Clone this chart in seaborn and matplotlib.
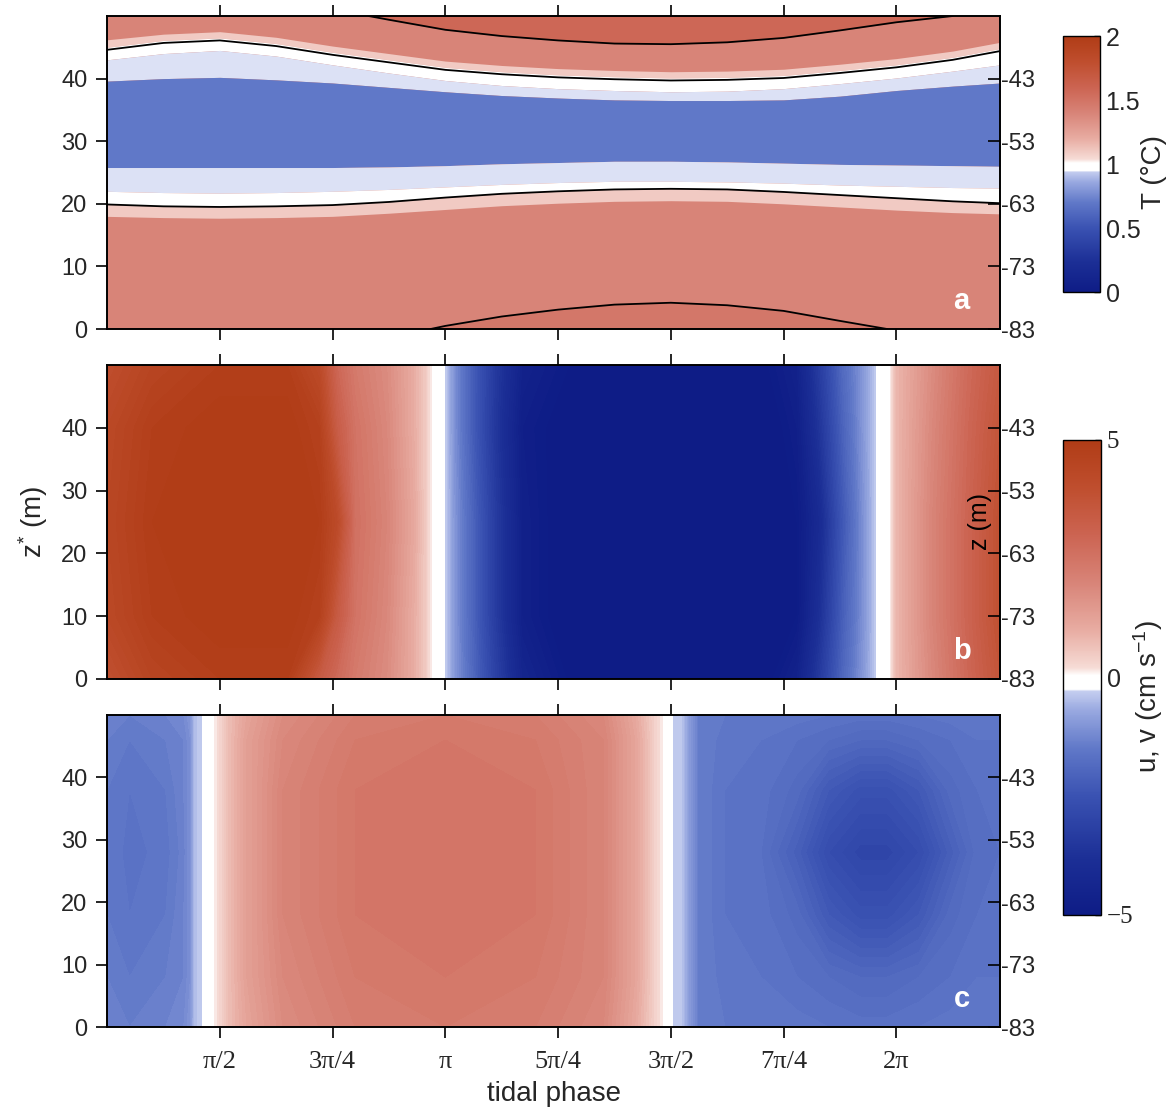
import numpy as np
import matplotlib
matplotlib.use("Agg")
import matplotlib.pyplot as plt
from matplotlib.colors import LinearSegmentedColormap, Normalize
from matplotlib.cm import ScalarMappable
import seaborn as sns

# ---------------- data (phases in units of pi, heights z* in m) ----------------
tick_phase = [0.5, 0.75, 1.0, 1.25, 1.5, 1.75, 2.0]
tick_labels = ["π/2", "3π/4", "π", "5π/4", "3π/2", "7π/4", "2π"]
zstar_ticks = [0, 10, 20, 30, 40]
z_right_labels = ["-83", "-73", "-63", "-53", "-43"]

# panel a: edges of the temperature bands
phase_a = [0.25, 0.375, 0.5, 0.625, 0.75, 0.875, 1.0, 1.125, 1.25, 1.375, 1.5, 1.625, 1.75, 1.875, 2.0, 2.125, 2.23]
upper_line = [44.6, 45.7, 46.1, 45.2, 43.8, 42.6, 41.4, 40.7, 40.2, 39.9, 39.7, 39.8, 40.1, 40.9, 41.8, 43.0, 44.4]
pink_top = [46.2, 47.1, 47.5, 46.6, 45.2, 44.0, 42.8, 42.1, 41.6, 41.3, 41.1, 41.2, 41.5, 42.3, 43.2, 44.4, 45.8]
pink_bottom = [45.0, 46.1, 46.5, 45.6, 44.2, 43.0, 41.8, 41.1, 40.6, 40.3, 40.1, 40.2, 40.5, 41.3, 42.2, 43.4, 44.8]
white_bottom = [43.0, 44.0, 44.5, 43.6, 42.2, 40.9, 39.7, 38.9, 38.4, 38.1, 37.9, 38.0, 38.4, 39.2, 40.1, 41.2, 42.2]
core_top = [39.6, 40.0, 40.2, 39.8, 39.3, 38.6, 37.9, 37.3, 36.9, 36.6, 36.5, 36.5, 36.6, 37.2, 38.1, 38.8, 39.3]
core_bottom = [25.8, 25.8, 25.8, 25.8, 25.8, 25.9, 26.1, 26.4, 26.6, 26.8, 26.8, 26.7, 26.5, 26.3, 26.2, 26.1, 26.0]
low_white_top = [22.0, 21.8, 21.7, 21.8, 22.0, 22.3, 22.7, 23.1, 23.4, 23.6, 23.6, 23.5, 23.3, 23.0, 22.8, 22.6, 22.5]
lower_line = [19.9, 19.6, 19.5, 19.6, 19.8, 20.3, 21.0, 21.6, 22.0, 22.3, 22.4, 22.3, 21.9, 21.4, 20.9, 20.4, 20.1]
low_pink_bottom = [18.0, 17.8, 17.7, 17.8, 18.0, 18.5, 19.1, 19.7, 20.1, 20.4, 20.5, 20.4, 20.0, 19.5, 19.0, 18.6, 18.4]

top_phase = [0.83, 0.875, 1.0, 1.125, 1.25, 1.375, 1.5, 1.625, 1.75, 1.875, 2.0, 2.125]
top_line = [50.0, 49.4, 47.8, 46.8, 46.1, 45.6, 45.5, 45.8, 46.5, 47.7, 49.0, 50.0]
bot_phase = [0.967, 1.0, 1.125, 1.25, 1.375, 1.5, 1.625, 1.75, 1.875, 1.98]
bot_line = [0.0, 0.5, 2.0, 3.1, 3.9, 4.2, 3.8, 2.9, 1.3, 0.0]

# band temperatures (deg C)
T_red, T_top, T_bot, T_pink, T_white, T_lblue, T_core = 1.40, 1.58, 1.48, 1.1, 1.0, 0.9425, 0.7

# panel b: u (cm/s)
phase_b = [0.25, 0.35, 0.5, 0.65, 0.72, 0.76, 0.8, 0.87, 0.93, 0.955, 0.97, 0.985, 1.0, 1.02, 1.06,
           1.11, 1.17, 1.3, 1.5, 1.7, 1.78, 1.83, 1.88, 1.93, 1.955, 1.97, 1.985, 2.0, 2.08, 2.16, 2.23]
z_b = [0, 10, 25, 40, 50]
u_z0 = [3.9, 4.5, 4.8, 4.8, 3.4, 2.8, 2.3, 1.8, 1.0, 0.5, 0.1, -0.1, -0.3, -1.0, -1.9, -3.1, -4.4, -5.2, -5.3, -5.2, -4.6, -3.4, -2.0, -0.9, -0.3, -0.1, 0.05, 0.8, 1.9, 2.9, 3.7]
u_z10 = [4.3, 4.8, 5.0, 5.0, 4.7, 3.4, 2.5, 1.9, 1.0, 0.5, 0.1, -0.1, -0.3, -1.0, -2.0, -3.3, -4.7, -5.4, -5.5, -5.4, -5.0, -3.8, -2.2, -1.0, -0.3, -0.1, 0.05, 0.8, 2.0, 3.0, 3.9]
u_z25 = [4.4, 4.9, 5.0, 5.0, 4.9, 4.2, 2.6, 2.0, 1.1, 0.5, 0.1, -0.1, -0.3, -1.0, -2.0, -3.3, -4.7, -5.4, -5.5, -5.4, -5.0, -4.1, -2.4, -1.0, -0.3, -0.1, 0.05, 0.8, 2.0, 3.0, 3.9]
u_z40 = [4.3, 4.8, 5.0, 5.0, 4.7, 3.3, 2.5, 1.9, 1.0, 0.5, 0.1, -0.1, -0.3, -1.1, -2.2, -3.5, -4.8, -5.3, -5.4, -5.3, -4.8, -3.6, -2.1, -0.9, -0.3, -0.1, 0.05, 0.8, 1.9, 2.9, 3.7]
u_z50 = [4.0, 4.5, 4.8, 4.8, 4.2, 2.9, 2.3, 1.8, 1.0, 0.5, 0.1, -0.1, -0.3, -1.1, -2.2, -3.4, -4.6, -5.1, -5.2, -5.1, -4.6, -3.3, -1.9, -0.9, -0.3, -0.1, 0.05, 0.8, 1.8, 2.8, 3.5]

# panel c: v (cm/s)
phase_c = [0.25, 0.3, 0.38, 0.42, 0.435, 0.445, 0.465, 0.485, 0.5, 0.52, 0.56, 0.64, 0.8, 1.0, 1.2, 1.35,
           1.42, 1.45, 1.47, 1.49, 1.505, 1.525, 1.54, 1.56, 1.62,
           1.7, 1.78, 1.85, 1.92, 1.98, 2.05, 2.12, 2.18, 2.23]
z_c = [0, 8, 18, 28, 38, 46, 50]
v_z0 = [-1.3, -1.4, -1.3, -1.2, -1.0, -0.45, -0.25, 0.05, 0.3, 0.7, 1.2, 1.8, 2.2, 2.3, 2.2, 1.9, 1.1, 0.6, 0.25, 0.0, -0.3, -0.4, -0.9, -1.4, -1.5,
        -1.5, -1.55, -1.6, -1.65, -1.65, -1.6, -1.55, -1.5, -1.5]
v_z8 = [-1.4, -1.5, -1.4, -1.3, -1.1, -0.45, -0.25, 0.05, 0.3, 0.7, 1.3, 1.9, 2.3, 2.4, 2.3, 2.0, 1.2, 0.65, 0.25, 0.0, -0.3, -0.4, -0.9, -1.4, -1.55,
        -1.6, -1.7, -1.8, -1.9, -1.9, -1.8, -1.7, -1.6, -1.6]
v_z18 = [-1.5, -1.6, -1.5, -1.3, -1.1, -0.45, -0.25, 0.05, 0.3, 0.7, 1.3, 2.0, 2.4, 2.5, 2.4, 2.0, 1.2, 0.65, 0.25, 0.0, -0.3, -0.4, -0.9, -1.4, -1.6,
         -1.65, -1.85, -2.3, -2.55, -2.55, -2.3, -1.85, -1.7, -1.65]
v_z28 = [-1.5, -1.65, -1.55, -1.35, -1.1, -0.45, -0.25, 0.05, 0.3, 0.7, 1.3, 2.0, 2.4, 2.5, 2.4, 2.0, 1.2, 0.65, 0.25, 0.0, -0.3, -0.4, -0.9, -1.4, -1.6,
         -1.7, -2.15, -2.7, -2.95, -2.95, -2.7, -2.15, -1.75, -1.7]
v_z38 = [-1.5, -1.6, -1.5, -1.3, -1.1, -0.45, -0.25, 0.05, 0.3, 0.7, 1.3, 2.0, 2.4, 2.5, 2.4, 2.0, 1.2, 0.65, 0.25, 0.0, -0.3, -0.4, -0.9, -1.4, -1.6,
         -1.65, -1.85, -2.3, -2.55, -2.55, -2.3, -1.85, -1.7, -1.65]
v_z46 = [-1.4, -1.5, -1.4, -1.3, -1.1, -0.45, -0.25, 0.05, 0.3, 0.7, 1.3, 1.9, 2.3, 2.4, 2.3, 2.0, 1.2, 0.65, 0.25, 0.0, -0.3, -0.4, -0.9, -1.4, -1.55,
         -1.6, -1.7, -1.8, -1.9, -1.9, -1.8, -1.7, -1.6, -1.6]
v_z50 = [-1.3, -1.4, -1.3, -1.2, -1.0, -0.45, -0.25, 0.05, 0.3, 0.7, 1.2, 1.8, 2.2, 2.3, 2.2, 1.9, 1.1, 0.6, 0.25, 0.0, -0.3, -0.4, -0.9, -1.4, -1.5,
         -1.5, -1.55, -1.6, -1.65, -1.65, -1.6, -1.55, -1.5, -1.5]

# ---------------- style ----------------
sns.set_theme(style="ticks")
plt.rcParams["font.family"] = ["Liberation Sans", "DejaVu Sans"]
plt.rcParams["mathtext.fontset"] = "custom"
plt.rcParams["mathtext.rm"] = "Liberation Sans"
plt.rcParams["mathtext.it"] = "Liberation Sans:italic"
plt.rcParams["axes.edgecolor"] = "black"

cmap = LinearSegmentedColormap.from_list("rb", [
    (0.00, "#0e1c86"), (0.12, "#1c2f96"), (0.25, "#3a52b2"), (0.35, "#6078c8"),
    (0.43, "#98a8e0"), (0.47, "#c4cdef"), (0.474, "#ffffff"), (0.505, "#ffffff"),
    (0.52, "#f6dcd6"), (0.60, "#e8aca2"), (0.70, "#d88478"), (0.80, "#cc6452"),
    (0.90, "#bf4e2e"), (1.00, "#b03c16")], N=512)
norm_T = Normalize(0, 2)
norm_u = Normalize(-5, 5)
FS = 17
FL = 20

fig = plt.figure(figsize=(11.66, 11.12), dpi=100)
ax_a = fig.add_axes([0.0918, 0.7041, 0.7659, 0.2815])
ax_b = fig.add_axes([0.0918, 0.3894, 0.7659, 0.2824])
ax_c = fig.add_axes([0.0918, 0.0764, 0.7659, 0.2806])
cax_t = fig.add_axes([0.9117, 0.7374, 0.0317, 0.2302])
cax_u = fig.add_axes([0.9117, 0.1772, 0.0326, 0.4272])

pi = np.pi
xa = np.array(phase_a) * pi

# ---- panel a: temperature bands
def band(lo, hi, T, x=xa):
    ax_a.fill_between(x, lo, hi, color=cmap(norm_T(T)), lw=0)

band(0, 50, T_red)
band(top_line, 50, T_top, x=np.array(top_phase) * pi)
band(0, bot_line, T_bot, x=np.array(bot_phase) * pi)
band(pink_bottom, pink_top, T_pink)
band(white_bottom, pink_bottom, T_white)
band(core_top, white_bottom, T_lblue)
band(core_bottom, core_top, T_core)
band(low_white_top, core_bottom, T_lblue)
band(lower_line, low_white_top, T_white)
band(low_pink_bottom, lower_line, T_pink)

for px, pz in [(phase_a, upper_line), (phase_a, lower_line), (top_phase, top_line), (bot_phase, bot_line)]:
    sns.lineplot(x=np.array(px) * pi, y=pz, ax=ax_a, color="black", lw=1.3, estimator=None)

# ---- panels b, c: velocity fields
levels = np.linspace(-5, 5, 101)
ax_b.contourf(np.array(phase_b) * pi, z_b, np.array([u_z0, u_z10, u_z25, u_z40, u_z50]),
              levels=levels, cmap=cmap, norm=norm_u, extend="both", antialiased=False)
ax_c.contourf(np.array(phase_c) * pi, z_c, np.array([v_z0, v_z8, v_z18, v_z28, v_z38, v_z46, v_z50]),
              levels=levels, cmap=cmap, norm=norm_u, extend="both", antialiased=False)

# ---- axes styling
for ax, letter in [(ax_a, "a"), (ax_b, "b"), (ax_c, "c")]:
    ax.set_xlim(0.25 * pi, 2.23 * pi)
    ax.set_ylim(0, 50)
    ax.set_xticks(np.array(tick_phase) * pi)
    ax.set_xticklabels(tick_labels if ax is ax_c else [], family="Liberation Serif", fontsize=19)
    ax.set_yticks(zstar_ticks)
    ax.set_yticklabels([str(v) for v in zstar_ticks], fontsize=FS)
    ax.tick_params(axis="both", direction="out", length=8, width=1.2, color="black",
                   top=True, bottom=True, left=True, right=False)
    ax.tick_params(axis="x", pad=9)
    ax.tick_params(axis="y", pad=6)
    ax.set_xlabel("")
    ax.set_ylabel("")
    for sp in ax.spines.values():
        sp.set_color("black")
        sp.set_linewidth(1.2)
    ax2 = ax.twinx()
    ax2.set_ylim(0, 50)
    ax2.set_yticks(zstar_ticks)
    ax2.set_yticklabels(z_right_labels, fontsize=FS)
    ax2.tick_params(axis="y", direction="in", length=9, width=1.2, color="black", pad=1)
    for sp in ax2.spines.values():
        sp.set_color("black")
        sp.set_linewidth(1.2)
    ax.text(0.957, 0.09, letter, transform=ax.transAxes, color="white", fontsize=21,
            fontweight="bold", ha="center", va="center")

ax_c.set_xlabel("tidal phase", fontsize=FL, labelpad=6)
ax_b.set_ylabel(r"z$^{*}$ (m)", fontsize=FL, labelpad=8)
ax_b.text(0.978, 0.5, "z (m)", transform=ax_b.transAxes, rotation=90, fontsize=18,
          ha="center", va="center", color="black")

# ---- colorbars
cb_t = fig.colorbar(ScalarMappable(norm=norm_T, cmap=cmap), cax=cax_t)
cb_t.set_ticks([0, 0.5, 1, 1.5, 2])
cb_t.set_ticklabels(["0", "0.5", "1", "1.5", "2"])
cb_t.ax.tick_params(direction="in", length=4, width=1, labelsize=18, pad=4, color="black")
cb_t.outline.set_linewidth(1)
cax_t.text(2.45, 0.47, "T (°C)", transform=cax_t.transAxes, rotation=90, fontsize=FL,
           ha="center", va="center")

cb_u = fig.colorbar(ScalarMappable(norm=norm_u, cmap=cmap), cax=cax_u)
cb_u.set_ticks([-5, 0, 5])
cb_u.set_ticklabels(["\u22125", "0", "5"])
cb_u.ax.tick_params(direction="in", length=4, width=1, labelsize=18, pad=4, color="black")
for lbl in cb_u.ax.get_yticklabels():
    if lbl.get_text() != "0":
        lbl.set_family("Liberation Serif")
cb_u.outline.set_linewidth(1)
cax_u.text(2.25, 0.46, r"u, v (cm s$^{\mathregular{-1}}$)", transform=cax_u.transAxes,
           rotation=90, fontsize=FL, ha="center", va="center")

fig.savefig("out.png", dpi=100)
